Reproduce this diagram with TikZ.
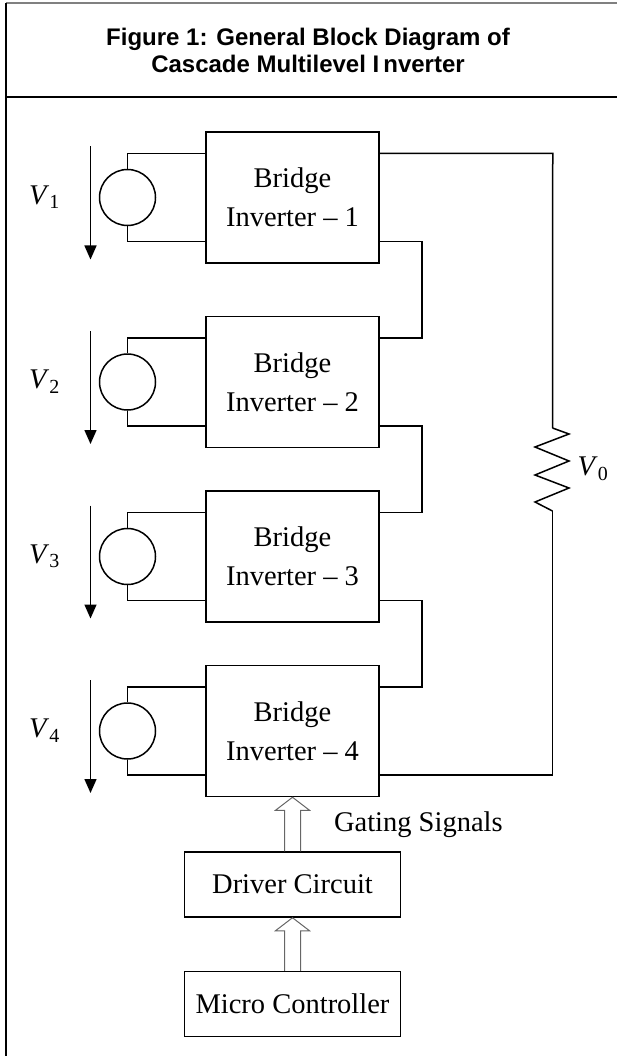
\documentclass[tikz,border=0pt]{standalone}
\usepackage{fontspec}
\setmainfont{Liberation Serif}
\newfontfamily\headfont{Liberation Sans}
\usepackage{tikz}
\usetikzlibrary{positioning}
\usetikzlibrary{arrows.meta}

\tikzset{
  inv/.style={draw, line width=1.5pt, minimum width=173pt, minimum height=131pt,
    align=center, inner sep=0pt, font=\fontsize{28.5}{39}\selectfont},
  src/.style={draw, circle, line width=1.5pt, minimum size=56pt, inner sep=0pt},
  blk/.style={draw, line width=1.5pt, minimum width=216pt, minimum height=65pt,
    inner sep=0pt, font=\fontsize{28.5}{34}\selectfont},
  wire/.style={line width=1.5pt},
  vdir/.style={line width=1.5pt, -{Triangle[length=14pt,width=12pt]}},
  vlab/.style={inner sep=0pt, font=\fontsize{28.5}{34}\selectfont},
}

% hollow arrow from #1 up to #2
\newcommand{\gatearrow}[2]{%
  \draw[gray!80!black, line width=1pt]
    ([xshift=-8pt]#1) -- ([xshift=-8pt,yshift=-13pt]#2)
    -- ([xshift=-17pt,yshift=-13pt]#2) -- (#2)
    -- ([xshift=17pt,yshift=-13pt]#2) -- ([xshift=8pt,yshift=-13pt]#2)
    -- ([xshift=8pt]#1);}

\begin{document}
\begin{tikzpicture}[x=1pt, y=-1pt, node distance=42pt]
    \useasboundingbox (0,0) rectangle (617,1056);

    % frame and title
    \draw[gray, line width=2pt] (6,3) -- (617,3);
    \draw[line width=1.5pt] (6,3) -- (6,1056);
    \draw[line width=1.5pt] (6,97) -- (617,97);
    \node(title) at (308,50) [align=center, font=\headfont\bfseries\fontsize{24}{27}\selectfont]
        {Figure 1: General Block Diagram of\\Cascade Multilevel I\,nverter};

    % bridges
    \node(b1) at (292.5,197.5) [inv] {Bridge\\Inverter -- 1};
    \node(b2) [inv, below=52pt of b1] {Bridge\\Inverter -- 2};
    \node(b3) [inv, below=of b2] {Bridge\\Inverter -- 3};
    \node(b4) [inv, below=of b3] {Bridge\\Inverter -- 4};

    % sources
    \node(s1) [src, left=49pt of b1] {};
    \node(s2) [src, left=49pt of b2] {};
    \node(s3) [src, left=49pt of b3] {};
    \node(s4) [src, left=49pt of b4] {};

    \draw[wire] (s1.north) |- ([yshift=44pt]b1.west);
    \draw[wire] (s1.south) |- ([yshift=-44pt]b1.west);
    \draw[wire] (s2.north) |- ([yshift=44pt]b2.west);
    \draw[wire] (s2.south) |- ([yshift=-44pt]b2.west);
    \draw[wire] (s3.north) |- ([yshift=44pt]b3.west);
    \draw[wire] (s3.south) |- ([yshift=-44pt]b3.west);
    \draw[wire] (s4.north) |- ([yshift=44pt]b4.west);
    \draw[wire] (s4.south) |- ([yshift=-44pt]b4.west);

    \draw[vdir] ([xshift=-37pt,yshift=51pt]s1.center) -- node[vlab, left=30pt, pos=0.45] {\textit{V}\textsubscript{1}} ([xshift=-37pt,yshift=-62pt]s1.center);
    \draw[vdir] ([xshift=-37pt,yshift=51pt]s2.center) -- node[vlab, left=30pt, pos=0.45] {\textit{V}\textsubscript{2}} ([xshift=-37pt,yshift=-62pt]s2.center);
    \draw[vdir] ([xshift=-37pt,yshift=51pt]s3.center) -- node[vlab, left=30pt, pos=0.45] {\textit{V}\textsubscript{3}} ([xshift=-37pt,yshift=-62pt]s3.center);
    \draw[vdir] ([xshift=-37pt,yshift=51pt]s4.center) -- node[vlab, left=30pt, pos=0.45] {\textit{V}\textsubscript{4}} ([xshift=-37pt,yshift=-62pt]s4.center);

    % series links
    \draw[wire] ([yshift=-44pt]b1.east) -- ++(42,0) |- ([yshift=44pt]b2.east);
    \draw[wire] ([yshift=-44pt]b2.east) -- ++(42,0) |- ([yshift=44pt]b3.east);
    \draw[wire] ([yshift=-44pt]b3.east) -- ++(42,0) |- ([yshift=44pt]b4.east);

    % load
    \coordinate(otop) at ([xshift=173pt,yshift=44pt]b1.east);
    \coordinate(rA) at (552.5,428);
    \coordinate(rB) at (552.5,511);
    \draw[wire] ([yshift=44pt]b1.east) -- (otop) -- (rA);
    \draw[wire, line join=miter] (rA) -- (569,434) -- (535,447) -- (569,461) -- (535,475)
        -- (569,488) -- (535,502) -- (rB);
    \draw[wire] (rB) |- ([yshift=-44pt]b4.east);
    \node(v0) [vlab] at (593,469) {\textit{V}\textsubscript{0}};

    % control
    \node(drv) [blk, below=54pt of b4] {Driver Circuit};
    \node(mcu) [blk, below=53pt of drv] {Micro Controller};
    \gatearrow{drv.north}{b4.south}
    \gatearrow{mcu.north}{drv.south}
    \node(gsig) [anchor=west, font=\fontsize{28.5}{34}\selectfont] at ([xshift=38pt,yshift=-27pt]b4.south) {Gating Signals};
\end{tikzpicture}
\end{document}
